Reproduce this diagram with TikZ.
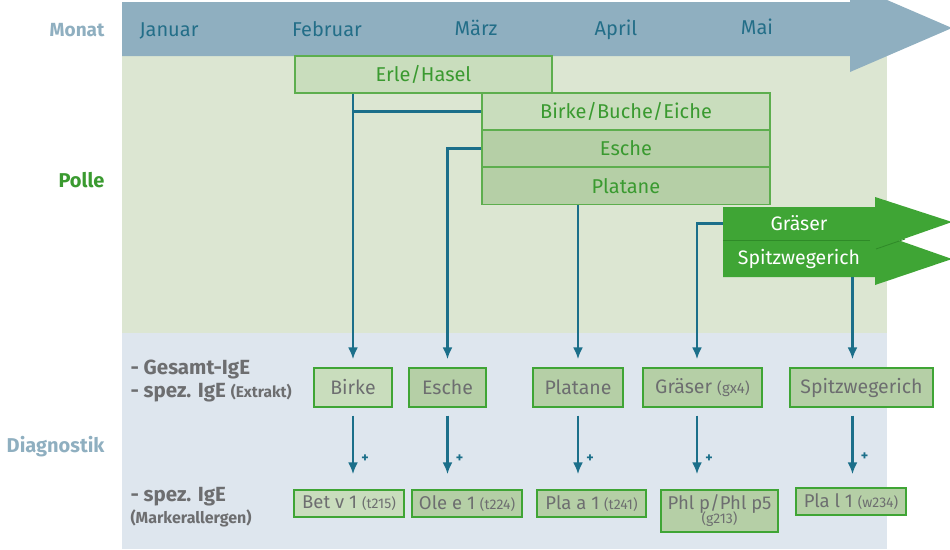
\documentclass[tikz,border=0pt]{standalone}
\usepackage{fontspec}
\setmainfont{Fira Sans}
\usetikzlibrary{arrows.meta}
\definecolor{monatc}{HTML}{8FAFC0}
\definecolor{bggreen}{HTML}{DCE6D2}
\definecolor{bgblue}{HTML}{DEE6EE}
\definecolor{boxlight}{HTML}{C9DDBD}
\definecolor{boxdark}{HTML}{B5CFA6}
\definecolor{boxline}{HTML}{5DAE4E}
\definecolor{dline}{HTML}{3FA535}
\definecolor{garrow}{HTML}{3FA535}
\definecolor{gshadow}{HTML}{2F8A28}
\definecolor{teal}{HTML}{1B6F8A}
\definecolor{monthtxt}{HTML}{236E88}
\definecolor{greytxt}{HTML}{6D6E70}
\definecolor{greentxt}{HTML}{3A9A30}
\newcommand\smalltag{\fontsize{14}{15}\selectfont}
\tikzset{
  month/.style={text=monthtxt,font=\fontsize{20}{24}\selectfont},
  pbox/.style={draw=boxline,line width=1.4pt,fill=boxlight,text=greentxt,
    font=\fontsize{20}{24}\selectfont,inner sep=0pt,minimum height=37pt},
  pboxd/.style={pbox,fill=boxdark},
  dbox/.style={draw=dline,line width=1.3pt,fill=boxdark,text=greytxt,
    font=\fontsize{19.5}{23}\selectfont,inner sep=0pt,minimum height=39pt},
  mbox/.style={draw=dline,line width=1.3pt,fill=boxdark,text=greytxt,
    font=\fontsize{18.5}{20}\selectfont,inner sep=0pt,minimum height=27pt,align=center},
  conn/.style={draw=teal,line width=2.3pt,-{Latex[length=12pt,width=10pt]}},
  plain/.style={draw=teal,line width=2.3pt},
  plus/.style={text=teal,font=\bfseries\fontsize{14}{14}\selectfont},
  sidelbl/.style={anchor=east,font=\bfseries\fontsize{20}{22}\selectfont},
  leftlbl/.style={anchor=west,text=greytxt,font=\bfseries\fontsize{20.5}{23}\selectfont}
}
\begin{document}
\begin{tikzpicture}[x=1pt,y=-1pt]
\useasboundingbox (0,0) rectangle (950,549);
% backgrounds
\fill[bgblue] (122,333) rectangle (887,549);
\fill[bggreen] (122,55) rectangle (887,333);
\fill[monatc] (122,2) -- (850,2) -- (850,-16) -- (952,28) -- (850,72) -- (850,56) -- (122,56) -- cycle;
% side labels
\node[sidelbl,text=monatc,font=\fontsize{19}{22}\selectfont\bfseries] (lmonat) at (108,30) {Monat};
\node[sidelbl,text=greentxt] (lpolle) at (108,180) {Polle};
\node[sidelbl,text=monatc] (ldiag) at (108,447) {Diagnostik};
% months
\node[month] (jan) at (169,31) {Januar};
\node[month] (feb) at (327,29) {Februar};
\node[month] (mar) at (476,28) {März};
\node[month] (apr) at (616,30) {April};
\node[month] (mai) at (757,27) {Mai};
% pollen boxes
\node[pbox,minimum width=257pt] (erle) at (423.5,74.5) {Erle/Hasel};
\node[pbox,minimum width=288pt] (bbe) at (626,111.5) {Birke/Buche/Eiche};
\node[pboxd,minimum width=288pt] (escheP) at (626,148.5) {Esche};
\node[pboxd,minimum width=288pt] (platP) at (626,186) {Platane};
% green arrows
\fill[garrow] (723,240) -- (875,240) -- (875,285) -- (952,259) -- (875,232) -- (875,277) -- (723,277) -- cycle;
\fill[garrow] (723,207) -- (875,207) -- (875,197) -- (952,222) -- (875,249) -- (875,240) -- (723,240) -- cycle;
\draw[gshadow,line width=0.8pt] (723,240) -- (870,240);
\draw[gshadow,line width=0.8pt] (876,249) -- (905,239);
\node[text=white,font=\fontsize{19.5}{23}\selectfont,minimum width=152pt,minimum height=33pt,inner sep=0pt] (graeser) at (799,223.5) {Gräser};
\node[text=white,font=\fontsize{19.5}{23}\selectfont,minimum width=152pt,minimum height=37pt,inner sep=0pt] (spitz) at (799,258.5) {Spitzwegerich};
% left diag labels
\node[leftlbl] (l1) at (127,369) {- Gesamt-IgE};
\node[leftlbl] (l2) at (127,393) {- spez. IgE {\fontsize{15.5}{17}\selectfont(Extrakt)}};
\node[leftlbl] (l3) at (127,497) {- spez. IgE};
\node[leftlbl,font=\bfseries\fontsize{16}{18}\selectfont] (l4) at (127,518) {(Markerallergen)};
% diag row 1
\node[dbox,fill=boxlight,minimum width=78pt] (birkeD) at (353,387.5) {Birke};
\node[dbox,minimum width=77pt] (escheD) at (447.5,387.5) {Esche};
\node[dbox,minimum width=90pt] (platD) at (578,387.5) {Platane};
\node[dbox,minimum width=119pt] (gxD) at (702.5,387.5) {Gräser {\fontsize{15}{16}\selectfont(gx4)}};
\node[dbox,minimum width=143pt] (spD) at (861.5,387.5) {Spitzwegerich};
% diag row 2
\node[mbox,fill=boxlight,minimum width=110pt] (betv) at (349,503.5) {Bet v 1 {\smalltag(t215)}};
\node[mbox,minimum width=110pt] (olee) at (467,503.5) {Ole e 1 {\smalltag(t224)}};
\node[mbox,minimum width=109pt] (plaa) at (591.5,503.5) {Pla a 1 {\smalltag(t241)}};
\node[mbox,minimum width=117pt,minimum height=42pt,font=\fontsize{18.5}{17}\selectfont] (phl) at (719.5,511) {Phl p/Phl p5\\[-3pt]{\smalltag(g213)}};
\node[mbox,minimum width=110pt] (plal) at (851,501.5) {Pla l 1 {\smalltag(w234)}};
% helper coordinates
\coordinate (gxs) at ([xshift=-5.5pt]gxD.north);
\coordinate (sps) at ([xshift=-9pt]spD.north);
\coordinate (gxb) at ([xshift=-5.5pt]gxD.south);
\coordinate (spb) at ([xshift=-9pt]spD.south);
% connectors top
\draw[conn,shorten >=8pt] (erle.south -| birkeD.north) -- (birkeD.north);
\draw[plain] (bbe.west) -- (bbe.west -| birkeD.north);
\draw[conn,shorten >=8pt] (escheP.west) -| (escheD.north);
\draw[conn,shorten >=8pt] (platP.south -| platD.north) -- (platD.north);
\draw[conn,shorten >=8pt] (graeser.west) -| (gxs);
\draw[conn,shorten >=8pt] (spitz.south -| sps) -- (sps);
% connectors bottom
\draw[conn,shorten <=8pt,shorten >=15pt] (birkeD.south) -- (birkeD.south |- betv.north) node[plus,pos=0.62,right=4pt] {+};
\draw[conn,shorten <=8pt,shorten >=15pt] (escheD.south) -- (escheD.south |- olee.north) node[plus,pos=0.62,right=4pt] {+};
\draw[conn,shorten <=8pt,shorten >=15pt] (platD.south) -- (platD.south |- plaa.north) node[plus,pos=0.62,right=4pt] {+};
\draw[conn,shorten <=8pt,shorten >=15pt] (gxb) -- (gxb |- phl.north) node[plus,pos=0.62,right=4pt] {+};
\draw[conn,shorten <=8pt,shorten >=13pt] (spb) -- (spb |- plal.north) node[plus,pos=0.62,right=4pt] {+};
\end{tikzpicture}
\end{document}
